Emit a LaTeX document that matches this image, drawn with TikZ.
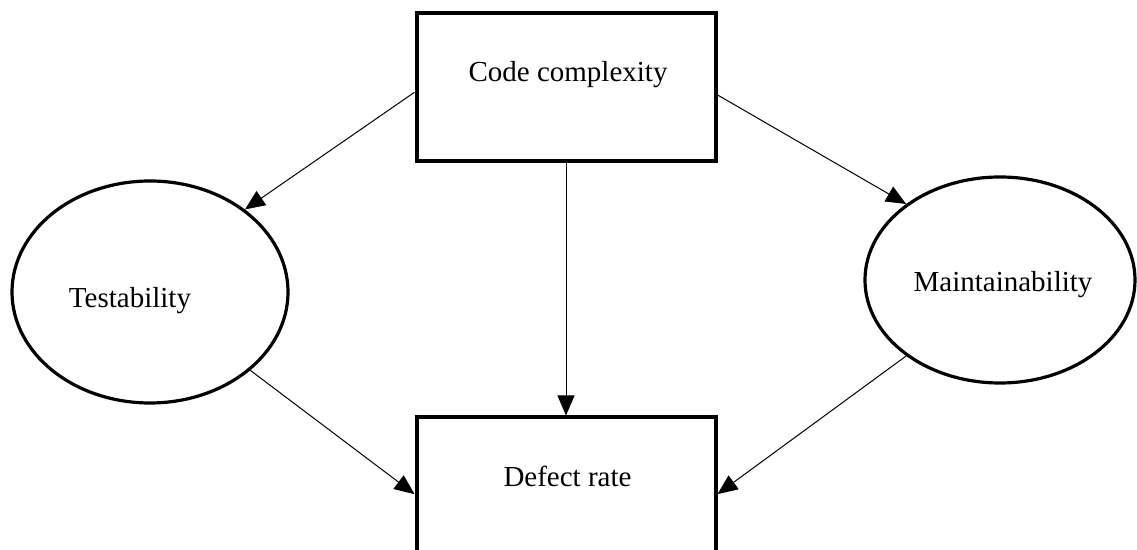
\documentclass[tikz,border=0pt]{standalone}
\usepackage{fontspec}
\setmainfont{Liberation Serif}
\usepackage{tikz}
\usetikzlibrary{shapes.geometric}
\usetikzlibrary{arrows.meta}

\begin{document}
\begin{tikzpicture}[x=0.5pt, y=-0.5pt,
    factorbox/.style={rectangle, draw, line width=2pt, fill=white,
      minimum width=149.5pt, minimum height=74pt, inner sep=0pt},
    factoroval/.style={ellipse, draw, line width=1.6pt, fill=white, inner sep=0pt},
    factortext/.style={anchor=base, text=black, inner sep=0pt,
      font=\fontsize{14.5}{17}\selectfont},
    link/.style={line width=0.5pt, -{Triangle[length=10pt, width=8.5pt]}}]

 \useasboundingbox (0,0) rectangle (1137,550);
 \clip (0,0) rectangle (1137,550);

 \node[factorbox] (cc) at (566,87) {};
 \node[factortext] (cc-t) at (568,82) {Code complexity};

 \node[factorbox] (dr) at (566,491.5) {};
 \node[factortext] (dr-t) at (567.5,487) {Defect rate};

 \node[factoroval, minimum width=138pt, minimum height=111pt] (te) at (150,292) {};
 \node[factortext] (te-t) at (130,308) {Testability};

 \node[factoroval, minimum width=135pt, minimum height=103pt] (me) at (1000,280) {};
 \node[factortext] (me-t) at (1003,292) {Maintainability};

 \draw [link] (cc.182.7) -- (te.41.6);
 \draw [link] (cc.357.3) -- (me.141.1);
 \draw [link] (cc.south) -- (dr.north);
 \draw [link] (te.-38.3) -- (dr.181.3);
 \draw [link] (me.219.3) -- (dr.359.4);

\end{tikzpicture}
\end{document}
